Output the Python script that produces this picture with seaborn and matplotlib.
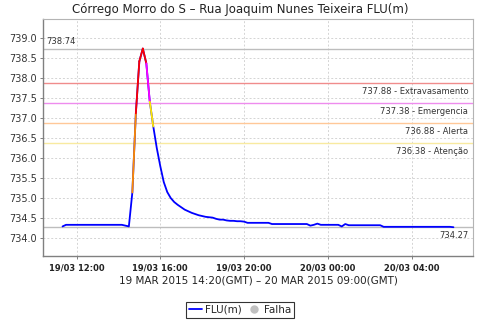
import numpy as np
import pandas as pd
import matplotlib
matplotlib.use("Agg")
import matplotlib.pyplot as plt
import matplotlib.dates as mdates
from matplotlib.lines import Line2D
import seaborn as sns

title = "Córrego Morro do S – Rua Joaquim Nunes Teixeira FLU(m)"
x_label = "19 MAR 2015 14:20(GMT) – 20 MAR 2015 09:00(GMT)"
start_time = "2015-03-19 11:20"
end_time = "2015-03-20 06:00"
step = "10min"

flu_values = [
    734.29, 734.33, 734.33, 734.33, 734.33, 734.33, 734.33, 734.33, 734.33, 734.33,
    734.33, 734.33, 734.33, 734.33, 734.33, 734.33, 734.33, 734.33,
    734.31, 734.29,
    735.14, 737.12, 738.42, 738.74, 738.37, 737.41, 736.79, 736.25, 735.80, 735.40,
    735.15, 735.00, 734.90, 734.83, 734.77, 734.71, 734.67, 734.63, 734.60, 734.57,
    734.55, 734.53, 734.52, 734.51, 734.48, 734.46, 734.46, 734.44, 734.43, 734.43,
    734.42, 734.42, 734.41,
    734.38, 734.38, 734.38, 734.38, 734.38, 734.38, 734.38,
    734.35, 734.35, 734.35, 734.35, 734.35, 734.35, 734.35, 734.35, 734.35, 734.35, 734.35,
    734.31, 734.33, 734.36,
    734.33, 734.33, 734.33, 734.33, 734.33, 734.33,
    734.29, 734.35,
    734.32, 734.32, 734.32, 734.32, 734.32, 734.32, 734.32, 734.32, 734.32, 734.32,
    734.28, 734.28, 734.28, 734.28, 734.28, 734.28, 734.28, 734.28, 734.28, 734.28,
    734.28, 734.28, 734.28, 734.28, 734.28, 734.28, 734.28, 734.28, 734.28, 734.28,
    734.27,
]

level_values = [737.88, 737.38, 736.88, 736.38]
level_names = ["Extravasamento", "Emergencia", "Alerta", "Atenção"]
level_line_colors = ["#F08C8C", "#EE8CEE", "#FFC898", "#F8EAA0"]
level_seg_colors = ["#FF0000", "#FF00FF", "#FF8C00", "#FFE800"]
max_value = 738.74
min_value = 734.27
y_ticks = [734.0, 734.5, 735.0, 735.5, 736.0, 736.5, 737.0, 737.5, 738.0, 738.5, 739.0]
legend_labels = ["FLU(m)", "Falha"]

times = pd.date_range(start_time, end_time, freq=step)
df = pd.DataFrame({"t": times, "v": flu_values})

# coloured segments: colour of the level reached by the segment end point
rows = []
for i in range(len(df) - 1):
    end_v = df.v.iloc[i + 1]
    lvl = None
    for name, val in zip(level_names, level_values):
        if end_v >= val:
            lvl = name
            break
    if lvl is not None:
        rows.append({"t": df.t.iloc[i], "v": df.v.iloc[i], "seg": i, "level": lvl})
        rows.append({"t": df.t.iloc[i + 1], "v": end_v, "seg": i, "level": lvl})
seg_df = pd.DataFrame(rows)

sns.set_theme(style="white")
plt.rcParams["font.family"] = ["DejaVu Sans"]

fig = plt.figure(figsize=(4.8, 3.2), dpi=100)
ax = fig.add_axes([43 / 480, 64 / 320, 430 / 480, 237 / 320])

ax.grid(True, color="#D4D4D4", linestyle=(0, (2, 2)), linewidth=0.7)
ax.set_axisbelow(True)

# threshold lines
for val, col in zip(level_values, level_line_colors):
    ax.axhline(val, color=col, lw=1.0, zorder=1.5)
ax.axhline(max_value, color="#BDBDBD", lw=1.0, zorder=1.5)
ax.axhline(min_value, color="#BDBDBD", lw=1.0, zorder=1.5)

sns.lineplot(data=df, x="t", y="v", color="#0000FF", lw=1.3, ax=ax, zorder=3)
sns.lineplot(data=seg_df, x="t", y="v", hue="level", units="seg", estimator=None,
             palette=dict(zip(level_names, level_seg_colors)), lw=1.3, sort=False,
             legend=False, ax=ax, zorder=4)

span = df.t.iloc[-1] - df.t.iloc[0]
ax.set_xlim(df.t.iloc[0] - span * 0.05, df.t.iloc[-1] + span * 0.05)
ax.set_ylim(733.55, 739.48)
ax.set_yticks(y_ticks)
ax.set_yticklabels([f"{y:.1f}" for y in y_ticks])
ax.xaxis.set_major_locator(mdates.HourLocator(byhour=[0, 4, 8, 12, 16, 20]))
ax.xaxis.set_major_formatter(mdates.DateFormatter("%d/%m %H:%M"))

ax.tick_params(axis="y", labelsize=7, length=2.5, width=0.7, color="#808080",
               pad=2, labelcolor="#333333", left=True)
ax.tick_params(axis="x", labelsize=6, length=2.5, width=0.7, color="#808080",
               pad=3, labelcolor="#222222", bottom=True)
for lab in ax.get_xticklabels():
    lab.set_fontweight("bold")

ax.set_xlabel(x_label, fontsize=7.5, color="#222222", labelpad=2)
ax.set_ylabel("")

for side in ["left", "bottom"]:
    ax.spines[side].set_color("#808080")
    ax.spines[side].set_linewidth(1.0)
for side in ["top", "right"]:
    ax.spines[side].set_color("#B4B4B4")
    ax.spines[side].set_linewidth(0.8)

lab_kw = dict(fontsize=6, color="#333333", textcoords="offset points")
for val, name in zip(level_values, level_names):
    ax.annotate(f"{val:.2f} - {name}", xy=(1, val), xycoords=("axes fraction", "data"),
                xytext=(-3.5, -6), ha="right", va="center", **lab_kw)
ax.annotate(f"{max_value:.2f}", xy=(0, max_value), xycoords=("axes fraction", "data"),
            xytext=(2.5, 5), ha="left", va="center", **lab_kw)
ax.annotate(f"{min_value:.2f}", xy=(1, min_value), xycoords=("axes fraction", "data"),
            xytext=(-3.5, -6), ha="right", va="center", **lab_kw)

fig.text(0.5, 1 - 9 / 320, title, ha="center", va="center", fontsize=8.5, color="#222222")

handles = [Line2D([], [], color="#0000FF", lw=1.3),
           Line2D([], [], color="#C0C0C0", marker="o", ls="", markersize=5)]
leg = fig.legend(handles, legend_labels, loc="center", bbox_to_anchor=(0.5, 1 - 310 / 320),
                 ncol=2, fontsize=7.5, frameon=True, fancybox=False, handlelength=1.3,
                 handletextpad=0.3, columnspacing=0.5, borderpad=0.25, borderaxespad=0)
leg.get_frame().set_edgecolor("black")
leg.get_frame().set_linewidth(0.8)

fig.savefig("out.png", dpi=100)
